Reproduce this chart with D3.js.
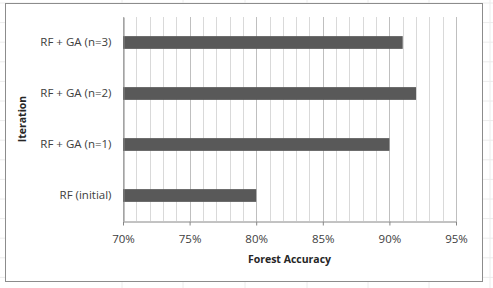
<!DOCTYPE html>
<html>
<head>
<meta charset="utf-8">
<script src="https://cdn.jsdelivr.net/npm/d3@7"></script>
<style>
  body { margin: 0; background: #fff; }
  text { font-family: "Open Sans", "Liberation Sans", sans-serif; }
</style>
</head>
<body>
<div id="chart"></div>
<script>
// data
var categories = ['RF + GA (n=3)', 'RF + GA (n=2)', 'RF + GA (n=1)', 'RF (initial)'];
var accuracy = [0.91, 0.92, 0.90, 0.80];
var xTicks = [0.70, 0.75, 0.80, 0.85, 0.90, 0.95];
var xMinor = d3.range(70, 96).map(function (d) { return d / 100; });

var width = 493, height = 288;
var plotLeft = 123, plotRight = 456, plotTop = 17, plotBottom = 221;

var col_bar = '#595959';
var col_minor = '#d9d9d9';
var col_major = '#bfbfbf';
var col_axis = '#868686';
var col_text = '#404040';

var svg = d3.select('#chart').append('svg')
    .attr('width', width)
    .attr('height', height);

// faint sheet cell lines behind the chart
var sheetCols = [122, 183, 245, 307, 368, 429, 490];
var sheetRows = d3.range(0, 15).map(function (i) { return 3 + i * 19.6; });
svg.append('g').selectAll('line.col').data(sheetCols).enter().append('line')
    .attr('x1', function (d) { return d; }).attr('x2', function (d) { return d; })
    .attr('y1', 0).attr('y2', height)
    .attr('stroke', '#ececec').attr('stroke-width', 1);
svg.append('g').selectAll('line.row').data(sheetRows).enter().append('line')
    .attr('x1', 0).attr('x2', width)
    .attr('y1', function (d) { return d; }).attr('y2', function (d) { return d; })
    .attr('stroke', '#ececec').attr('stroke-width', 1);

// chart area
svg.append('rect')
    .attr('x', 5.5).attr('y', 3.5)
    .attr('width', 477).attr('height', 278)
    .attr('fill', '#fff')
    .attr('stroke', '#8c8c8c')
    .attr('stroke-width', 1);

var x = d3.scaleLinear()
    .domain([0.70, 0.95])
    .range([plotLeft, plotRight]);

var y = d3.scaleBand()
    .domain(categories)
    .range([plotTop, plotBottom])
    .paddingInner(0.75)
    .paddingOuter(0.375);

// gridlines
svg.append('g').selectAll('line').data(xMinor).enter().append('line')
    .attr('x1', function (d) { return Math.round(x(d)) + 0.5; })
    .attr('x2', function (d) { return Math.round(x(d)) + 0.5; })
    .attr('y1', plotTop).attr('y2', plotBottom)
    .attr('stroke', function (d) {
        return Math.round(d * 100) % 5 === 0 ? col_major : col_minor;
    })
    .attr('stroke-width', 1);

// bars
svg.append('g').selectAll('rect').data(accuracy).enter().append('rect')
    .attr('x', x(0.70))
    .attr('y', function (d, i) { return y(categories[i]); })
    .attr('width', function (d) { return x(d) - x(0.70); })
    .attr('height', y.bandwidth())
    .attr('fill', col_bar);

// x axis
var xAxis = svg.append('g')
    .attr('transform', 'translate(0,' + (plotBottom + 0.5) + ')')
    .call(d3.axisBottom(x).tickValues(xTicks).tickSize(4).tickSizeOuter(0)
        .tickFormat(d3.format('.0%')));
xAxis.select('.domain').attr('stroke', col_axis);
xAxis.selectAll('.tick line').attr('stroke', col_axis);
xAxis.selectAll('.tick text')
    .attr('fill', col_text)
    .attr('font-size', '11.5px')
    .attr('dy', '1.3em');

// y axis
var yAxis = svg.append('g')
    .attr('transform', 'translate(' + (plotLeft + 0.5) + ',0)')
    .call(d3.axisLeft(y).tickSize(0).tickPadding(12));
yAxis.select('.domain').attr('stroke', col_axis);
yAxis.selectAll('.tick text')
    .attr('fill', col_text)
    .attr('font-size', '11.5px');

// titles
svg.append('text')
    .attr('x', (plotLeft + plotRight) / 2)
    .attr('y', 263)
    .attr('text-anchor', 'middle')
    .attr('font-size', '10.5px')
    .attr('font-weight', 'bold')
    .attr('fill', '#262626')
    .text('Forest Accuracy');

svg.append('text')
    .attr('transform', 'translate(26,' + ((plotTop + plotBottom) / 2) + ') rotate(-90)')
    .attr('text-anchor', 'middle')
    .attr('font-size', '10.5px')
    .attr('font-weight', 'bold')
    .attr('fill', '#262626')
    .text('Iteration');
</script>
</body>
</html>
